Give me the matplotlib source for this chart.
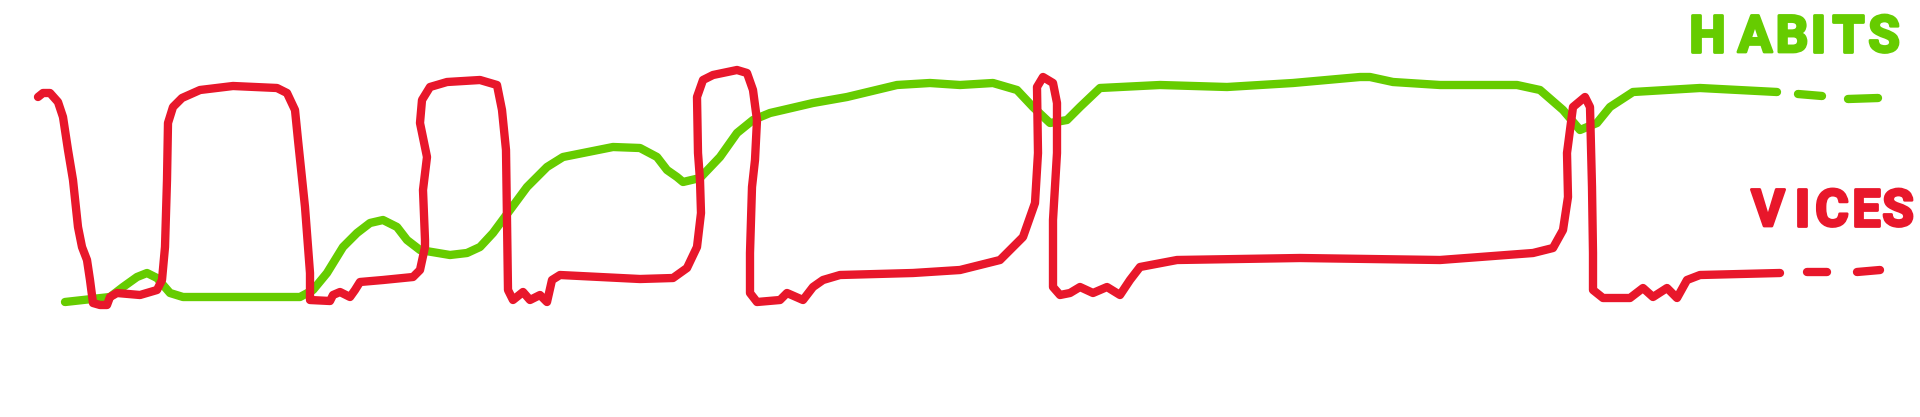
import matplotlib
matplotlib.use("Agg")
import matplotlib.pyplot as plt
import matplotlib.patheffects as pe

# ---- data (hand-drawn series, in drawing units) ----
habits_x = [65, 110, 123, 137, 147, 157, 170, 183, 300, 313, 327, 343, 357, 370, 383, 397, 407, 420, 450,
            467, 480, 493, 510, 527, 547, 563, 613, 640, 657, 667, 677, 683, 700, 720, 737, 753, 770, 783,
            813, 847, 897, 930, 960, 993, 1017, 1033, 1050, 1067, 1080, 1100, 1160, 1227, 1293, 1360, 1370,
            1393, 1440, 1517, 1540, 1563, 1580, 1597, 1610, 1633, 1700, 1777]
habits_y = [302, 297, 287, 277, 273, 278, 293, 297, 297, 290, 273, 247, 233, 223, 220, 227, 240, 250, 255,
            253, 247, 233, 210, 187, 167, 157, 147, 148, 157, 170, 177, 182, 178, 157, 133, 120, 113, 110,
            103, 97, 85, 83, 85, 83, 90, 107, 123, 120, 107, 88, 85, 87, 83, 77, 77,
            82, 85, 85, 90, 110, 130, 123, 107, 92, 88, 92]

vices_x = [38, 43, 50, 58, 63, 68, 73, 78, 82, 87, 90, 93, 100, 107, 110, 117, 140, 157, 162, 165, 167,
           168, 173, 182, 200, 233, 277, 287, 295, 298, 305, 310, 310, 330, 333, 340, 350, 355, 360, 383,
           413, 420, 425, 425, 423, 427, 420, 422, 430, 447, 480, 497, 502, 506, 507, 508, 513, 523, 530,
           540, 547, 552, 560, 600, 640, 673, 687, 697, 701, 700, 698, 697, 703, 713, 737, 747, 753, 757,
           755, 752, 750, 750, 757, 780, 787, 803, 813, 823, 840, 913, 960, 1000, 1023, 1035, 1038, 1037,
           1043, 1053, 1057, 1057, 1053, 1053, 1060, 1070, 1080, 1093, 1107, 1120, 1130, 1140, 1177, 1300,
           1440, 1533, 1553, 1563, 1568, 1567, 1573, 1585, 1590, 1592, 1593, 1593, 1603, 1630, 1643, 1653,
           1667, 1677, 1687, 1700, 1780]
vices_y = [97, 93, 93, 102, 117, 150, 180, 227, 247, 260, 280, 303, 305, 305, 297, 293, 295, 290, 280, 247, 180,
           123, 107, 98, 90, 86, 88, 93, 110, 140, 207, 273, 300, 301, 295, 292, 297, 290, 282, 280,
           277, 270, 247, 240, 190, 157, 123, 100, 87, 82, 80, 85, 110, 150, 220, 290, 300, 292, 300,
           295, 302, 280, 275, 277, 279, 278, 268, 247, 213, 180, 153, 97, 80, 75, 70, 73, 90, 120,
           160, 187, 253, 293, 302, 300, 293, 300, 287, 280, 275, 273, 270, 260, 237, 203, 153, 87,
           77, 83, 103, 153, 220, 287, 295, 293, 287, 293, 287, 295, 280, 267, 260, 258,
           260, 253, 248, 230, 197, 153, 107, 97, 107, 187, 253, 290, 298, 298, 288, 297,
           288, 298, 280, 275, 273]

# legend dashes after each line end
habits_dash_x = [[1798, 1822], [1848, 1878]]
habits_dash_y = [[94, 96], [99, 98]]
vices_dash_x = [[1807, 1827], [1857, 1880]]
vices_dash_y = [[272, 272], [272, 270]]

labels = ["HABITS", "VICES"]

GREEN = "#66CC00"
RED = "#E8172B"

fig = plt.figure(figsize=(19.2, 4.17), dpi=100)
ax = fig.add_axes([0, 0, 1, 1])
ax.set_xlim(0, 1920)
ax.set_ylim(417, 0)
ax.axis("off")

lw = 6.0
common = dict(solid_capstyle="round", solid_joinstyle="round", linewidth=lw)
ax.plot(habits_x, habits_y, color=GREEN, **common, zorder=2)
ax.plot(vices_x, vices_y, color=RED, **common, zorder=3)

for xs, ys in zip(habits_dash_x, habits_dash_y):
    ax.plot(xs, ys, color=GREEN, **common)
for xs, ys in zip(vices_dash_x, vices_dash_y):
    ax.plot(xs, ys, color=RED, **common)

# hand-lettered labels: each letter placed like marker writing
def label(txt, xs, y, color):
    for ch, x in zip(txt, xs):
        t = ax.text(x, y, ch, color=color, fontsize=37, fontweight="bold",
                    family=["Roboto", "DejaVu Sans"],
                    ha="center", va="center")
        t.set_path_effects([pe.Stroke(linewidth=2.0, foreground=color, joinstyle="round",
                                      capstyle="round"), pe.Normal()])

label(labels[0], [1707, 1755, 1792, 1818, 1848, 1884], 38, GREEN)
label(labels[1], [1768, 1802, 1832, 1866, 1898], 212, RED)

fig.savefig("out.png", dpi=100, facecolor="white")
